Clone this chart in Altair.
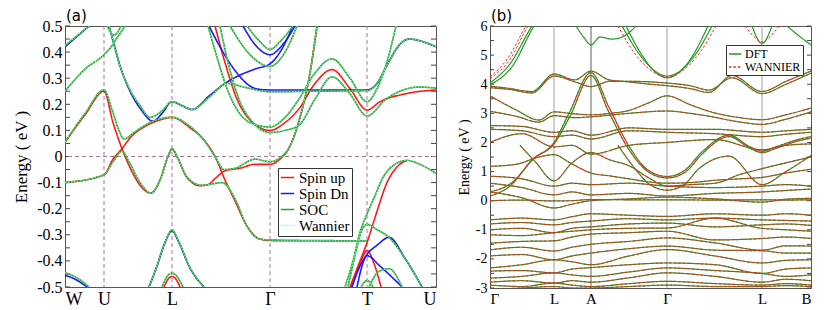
import altair as alt
import pandas as pd

# ---------------- panel (a) ----------------
A_SYM_K = [0, 39, 107, 205, 302, 371]
A_SYM_LABELS = ["W", "U", "L", "Γ", "T", "U"]
A_Y_TICKS = [0.5, 0.4, 0.3, 0.2, 0.1, 0.0, -0.1, -0.2, -0.3, -0.4, -0.5]
A_Y_LABELS = ["0.5", "0.4", "0.3", "0.2", "0.1", "0", "-0.1", "-0.2", "-0.3", "-0.4", "-0.5"]
A_MINOR = [-0.5, -0.45, -0.4, -0.35, -0.3, -0.25, -0.2, -0.15, -0.1, -0.05, 0.0,
           0.05, 0.1, 0.15, 0.2, 0.25, 0.3, 0.35, 0.4, 0.45, 0.5]
A_SERIES = ["Spin up", "Spin Dn", "SOC", "Wannier"]
A_COLORS = ["#ff1a1a", "#1a1aff", "#1fa51f", "#9ff5ee"]
A_TITLE = ["(a)"]

SPIN_UP = [
    ([0, 20, 39, 48, 57, 66, 76, 86, 95, 103, 107, 112, 122, 135, 143, 150, 160, 175, 190, 205, 215, 225, 235, 245, 252],
     [0.055, 0.16, 0.25, 0.13, 0.03, -0.05, -0.115, -0.14, -0.09, 0.0, 0.028, 0.0, -0.08, -0.112, -0.108, -0.085, -0.055, -0.045, -0.03, -0.03, -0.01, 0.04, 0.15, 0.32, 0.5]),
    ([0, 39, 48, 57, 66, 80, 95, 107, 125, 139, 150, 160, 170, 181, 194, 205, 250, 302],
     [-0.1, -0.07, -0.01, 0.03, 0.075, 0.115, 0.14, 0.15, 0.11, 0.063, 0.0, -0.09, -0.17, -0.26, -0.315, -0.322, -0.323, -0.323]),
    ([150, 160, 172, 185, 205, 220, 234, 250, 267, 285, 302, 315, 340, 371],
     [0.5, 0.36, 0.22, 0.14, 0.10, 0.13, 0.183, 0.28, 0.333, 0.26, 0.178, 0.21, 0.24, 0.255]),
    ([285, 293, 302, 312, 322, 332, 342], [-0.5, -0.42, -0.33, -0.21, -0.10, -0.04, -0.015]),
    ([286, 295, 302, 309, 316], [-0.5, -0.41, -0.36, -0.41, -0.5]),
    ([99, 103, 107, 111, 115], [-0.5, -0.47, -0.46, -0.47, -0.5]),
]

SPIN_DN = [
    ([0, 12, 24], [0.42, 0.46, 0.5]),
    ([0, 10, 22], [-0.455, -0.47, -0.5]),
    ([44, 49, 54, 65, 76, 88, 97, 107, 117, 127, 145, 160, 174, 190, 205, 215, 228],
     [0.5, 0.43, 0.36, 0.25, 0.18, 0.135, 0.165, 0.21, 0.195, 0.18, 0.235, 0.28, 0.31, 0.335, 0.355, 0.40, 0.5]),
    ([144, 158, 174, 185, 195, 205, 250, 302, 312, 322, 335, 344, 358, 371],
     [0.5, 0.40, 0.31, 0.27, 0.257, 0.255, 0.255, 0.255, 0.28, 0.35, 0.43, 0.45, 0.44, 0.42]),
    ([178, 192, 205, 218, 230], [0.5, 0.42, 0.39, 0.43, 0.5]),
    ([84, 92, 100, 107, 114, 124, 139], [-0.5, -0.42, -0.33, -0.285, -0.33, -0.42, -0.5]),
    ([287, 295, 302, 312, 324, 340, 357], [-0.5, -0.42, -0.375, -0.34, -0.31, -0.39, -0.5]),
    ([292, 297, 302, 315, 337], [-0.5, -0.42, -0.38, -0.42, -0.5]),
]

SOC = [
    ([0, 12, 24], [0.425, 0.462, 0.5]),
    ([0, 20, 39, 47, 53, 60], [0.25, 0.335, 0.39, 0.425, 0.46, 0.5]),
    ([42, 49, 56], [0.5, 0.465, 0.5]),
    ([44, 49, 54, 65, 75, 85, 97, 107, 117, 127, 145, 162, 180, 205, 250, 302, 312, 322, 335, 344, 358, 371],
     [0.5, 0.43, 0.36, 0.255, 0.195, 0.15, 0.175, 0.21, 0.195, 0.18, 0.23, 0.28, 0.265, 0.248, 0.25, 0.252, 0.28, 0.35, 0.43, 0.45, 0.44, 0.42]),
    ([0, 20, 39, 47, 54, 59, 70, 85, 107, 125, 139, 150, 159, 170, 190, 205, 215, 225, 235, 245, 252],
     [0.055, 0.165, 0.255, 0.18, 0.10, 0.067, 0.095, 0.13, 0.15, 0.115, 0.063, 0.0, -0.05, -0.045, -0.01, -0.02, -0.005, 0.04, 0.15, 0.32, 0.5]),
    ([0, 39, 48, 57, 64, 75, 86, 95, 103, 107, 112, 122, 137, 147, 157, 171, 181, 194, 205, 250, 302],
     [-0.1, -0.07, -0.02, 0.02, -0.02, -0.1, -0.14, -0.09, 0.0, 0.03, 0.0, -0.08, -0.11, -0.105, -0.10, -0.17, -0.26, -0.315, -0.32, -0.322, -0.323]),
    ([143, 152, 162, 172, 185, 205, 220, 234, 250, 267, 285, 302, 312, 321, 331],
     [0.5, 0.38, 0.26, 0.18, 0.13, 0.113, 0.15, 0.22, 0.32, 0.374, 0.30, 0.21, 0.26, 0.35, 0.5]),
    ([155, 165, 175, 188, 205, 220, 234, 250, 267, 285, 302, 321, 354, 371],
     [0.5, 0.33, 0.21, 0.13, 0.092, 0.1, 0.12, 0.22, 0.305, 0.24, 0.155, 0.22, 0.266, 0.262]),
    ([165, 185, 205, 220, 232], [0.5, 0.39, 0.345, 0.40, 0.5]),
    ([182, 195, 205, 215, 228], [0.5, 0.44, 0.41, 0.44, 0.5]),
    ([0, 12, 24], [-0.445, -0.465, -0.5]),
    ([84, 92, 100, 107, 114, 124, 139], [-0.5, -0.418, -0.328, -0.282, -0.328, -0.418, -0.5]),
    ([97, 102, 107, 112, 118], [-0.5, -0.46, -0.447, -0.46, -0.5]),
    ([280, 288, 295, 302, 310, 318, 330, 342, 355, 371], [-0.5, -0.40, -0.29, -0.22, -0.15, -0.08, -0.03, -0.015, -0.03, -0.065]),
    ([283, 290, 296, 302, 312, 324, 340, 357], [-0.5, -0.38, -0.29, -0.26, -0.28, -0.31, -0.39, -0.5]),
    ([296, 302, 308], [-0.5, -0.475, -0.5]),
    ([304, 314, 324, 337], [-0.5, -0.44, -0.43, -0.5]),
]

# ---------------- panel (b) ----------------
B_SYM_K = [0, 64, 101, 177, 272, 321]
B_SYM_LABELS = ["Γ", "L", "A", "Γ", "L", "B"]
B_LINE_COLORS = ["#a0a0a0", "#606060", "#a0a0a0", "#a0a0a0"]
B_Y_TICKS = [-3, -2, -1, 0, 1, 2, 3, 4, 5, 6]
B_Y_LABELS = ["-3", "-2", "-1", "0", "1", "2", "3", "4", "5", "6"]
B_MINOR = [-3, -2.5, -2, -1.5, -1, -0.5, 0, 0.5, 1, 1.5, 2, 2.5, 3, 3.5, 4, 4.5, 5, 5.5, 6]
B_SERIES = ["DFT", "WANNIER"]
B_COLORS = ["#229a22", "#ff2020"]
B_TITLE = ["(b)"]
B_GRID = [0, 32, 64, 82, 101, 139, 177, 225, 272, 296, 321]

B_GRID_BANDS = [
    [0.0, 0.02, -0.01, 0.0, 0.04, 0.03, 0.03, 0.02, 0.03, 0.02, 0.03],
    [0.3, 0.1, -0.25, -0.12, 0.0, 0.06, 0.12, 0.06, -0.05, 0.05, 0.08],
    [-0.66, -0.6, -0.66, -0.55, -0.45, -0.5, -0.54, -0.45, -0.5, -0.45, -0.5],
    [-0.8, -0.75, -0.83, -0.75, -0.7, -0.62, -0.66, -0.6, -0.66, -0.68, -0.7],
    [-1.0, -0.95, -1.1, -0.95, -0.9, -0.8, -0.77, -0.9, -0.83, -0.8, -0.85],
    [-1.17, -1.2, -1.1, -1.05, -1.0, -0.95, -0.94, -0.6, -0.95, -1.0, -1.05],
    [-1.46, -1.4, -1.38, -1.25, -1.15, -1.1, -1.05, -1.35, -1.3, -1.25, -1.3],
    [-1.69, -1.6, -1.73, -1.6, -1.5, -1.4, -1.28, -1.45, -1.7, -1.55, -1.56],
    [-1.9, -1.85, -2.03, -1.9, -1.8, -1.65, -1.56, -1.7, -1.72, -1.8, -1.8],
    [-2.31, -2.2, -2.03, -2.1, -2.2, -1.9, -1.68, -1.9, -2.14, -2.05, -2.03],
    [-2.42, -2.4, -2.48, -2.35, -2.3, -2.2, -2.14, -2.2, -2.5, -2.35, -2.31],
    [-2.66, -2.6, -2.48, -2.55, -2.6, -2.45, -2.31, -2.4, -2.5, -2.6, -2.55],
    [-2.8, -2.75, -2.83, -2.75, -2.8, -2.65, -2.48, -2.6, -2.8, -2.7, -2.75],
    [-2.9, -2.95, -2.83, -2.9, -2.95, -2.85, -2.77, -2.85, -2.9, -2.85, -2.9],
    [-3.05, -3.0, -2.95, -3.0, -3.0, -2.95, -2.9, -2.95, -2.95, -2.92, -2.95],
    [0.84, 0.75, 0.5, 0.6, 0.55, 0.6, 0.5, 0.45, 0.5, 0.55, 0.5],
    [0.6, 0.45, 0.2, 0.3, 0.2, 0.25, 0.16, 0.25, 0.3, 0.35, 0.4],
    [2.58, 2.55, 2.35, 2.4, 2.25, 2.5, 2.45, 2.45, 2.35, 2.4, 2.45],
    [2.45, 2.4, 2.2, 2.25, 2.12, 2.4, 2.35, 2.3, 2.2, 2.28, 2.35],
    [2.0, 2.3, 1.85, 1.9, 1.6, 1.9, 2.0, 2.1, 1.75, 1.9, 1.95],
]

B_SHARED = [
    ([0, 16, 42, 64, 85, 101, 119, 139, 160, 177, 200, 219, 242, 272, 296, 321],
     [3.93, 3.87, 3.75, 4.35, 4.15, 4.45, 4.15, 4.08, 4.0, 3.95, 3.85, 3.72, 4.3, 3.75, 4.1, 4.45]),
    ([0, 20, 42, 64, 85, 101, 120, 139, 177, 200, 219, 242, 272, 296, 321],
     [3.88, 3.82, 3.7, 4.28, 4.08, 3.92, 4.1, 4.1, 4.04, 3.95, 3.8, 4.22, 3.68, 4.0, 4.38]),
    ([0, 26, 49, 64, 85, 101, 120, 139, 158, 177, 200, 219, 250, 272, 296, 321],
     [3.6, 3.12, 2.77, 3.05, 2.98, 2.95, 3.0, 3.1, 3.35, 3.6, 3.3, 3.07, 2.85, 2.78, 2.95, 3.18]),
    ([0, 26, 49, 64, 85, 101, 139, 177, 200, 219, 250, 272, 296, 321],
     [3.07, 2.9, 2.7, 2.92, 2.85, 2.88, 3.0, 3.08, 3.0, 2.9, 2.7, 2.62, 2.8, 3.05]),
    ([0, 20, 42, 64, 79, 101, 119, 139, 158, 177, 195, 211, 239, 260, 272, 286, 308, 321],
     [0.16, 0.5, 1.4, 2.0, 3.0, 4.4, 3.2, 1.87, 1.05, 0.83, 1.05, 1.64, 2.25, 1.85, 1.7, 1.85, 2.1, 2.2]),
    ([0, 22, 44, 64, 80, 101, 118, 139, 160, 177, 196, 212, 239, 260, 272, 286, 308, 321],
     [0.3, 0.62, 1.45, 1.95, 2.9, 4.3, 3.1, 1.75, 0.95, 0.78, 1.0, 1.6, 2.2, 1.8, 1.65, 1.8, 2.05, 2.15]),
    ([128, 145, 160, 177, 194, 209, 239, 272, 296, 321],
     [1.9, 1.1, 0.55, 0.36, 0.55, 1.1, 1.53, 0.55, 1.0, 1.55]),
    ([0, 26, 49, 64, 80, 101, 120, 139, 158, 177, 200, 225, 250, 272, 296, 321],
     [1.18, 1.25, 1.5, 1.58, 1.3, 0.95, 0.85, 0.75, 0.65, 0.6, 0.62, 0.7, 0.75, 0.8, 0.95, 1.08]),
    ([30, 45, 64, 82, 101, 120, 139, 158, 177, 200, 225, 250, 272, 296, 321],
     [1.9, 1.35, 0.68, 1.3, 1.65, 1.4, 1.2, 0.8, 0.5, 0.55, 0.6, 0.9, 1.1, 1.3, 1.5]),
]

B_DFT_ONLY = [
    ([0, 20, 42, 50], [4.04, 4.7, 6.0, 6.4]),
    ([0, 22, 44, 52], [3.98, 4.6, 6.0, 6.4]),
    ([86, 94, 101, 110, 122, 134, 146], [6.0, 5.6, 5.35, 5.62, 5.55, 5.65, 6.0]),
    ([132, 150, 165, 177, 190, 205, 222], [6.0, 5.0, 4.45, 4.28, 4.45, 5.0, 6.0]),
    ([136, 152, 166, 177, 189, 203, 218], [6.0, 5.0, 4.4, 4.22, 4.4, 5.0, 6.0]),
    ([262, 272, 282], [6.0, 5.4, 6.0]),
    ([297, 309, 321], [6.0, 5.66, 5.35]),
]

B_WANNIER_ONLY = [
    ([0, 18, 36, 44], [4.25, 4.9, 6.0, 6.4]),
    ([0, 20, 38, 46], [4.2, 4.85, 6.0, 6.4]),
    ([128, 146, 162, 177, 192, 208, 226], [6.0, 5.0, 4.45, 4.25, 4.45, 5.0, 6.0]),
    ([255, 265, 272, 279, 289], [6.0, 5.6, 5.45, 5.6, 6.0]),
    ([97, 101, 105], [6.1, 5.95, 6.1]),
]


def band_rows(series, bands, tag):
    rows = []
    for i, (ks, es) in enumerate(bands):
        for j, (k, e) in enumerate(zip(ks, es)):
            rows.append({"series": series, "band": f"{tag}{i}", "order": j, "k": k, "e": e})
    return rows


def label_expr(values, labels):
    parts = [f"abs(datum.value - ({v})) < 0.001 ? '{l}'" for v, l in zip(values, labels)]
    return " : ".join(parts) + " : ''"


def panel_title(label):
    return alt.Chart(pd.DataFrame({"t": label})).mark_text(
        align="left", baseline="top", font="DejaVu Sans", fontSize=15, color="black"
    ).encode(text="t:N", x=alt.value(1), y=alt.value(-17))


SERIF = "Liberation Serif"

# ----- panel (a)
rows_a = (band_rows("Spin up", SPIN_UP, "u") + band_rows("Spin Dn", SPIN_DN, "d")
          + band_rows("SOC", SOC, "s") + band_rows("Wannier", SOC, "w"))
df_a = pd.DataFrame(rows_a)

xa = alt.X("k:Q", scale=alt.Scale(domain=[0, 371], nice=False, zero=False),
           axis=alt.Axis(values=A_SYM_K, labelExpr=label_expr(A_SYM_K, A_SYM_LABELS), title=None,
                         labelFontSize=18, labelPadding=3, labelFont=SERIF))
ya = alt.Y("e:Q", scale=alt.Scale(domain=[-0.5, 0.5], nice=False, zero=False),
           axis=alt.Axis(values=A_Y_TICKS, labelExpr=label_expr(A_Y_TICKS, A_Y_LABELS),
                         title="Energy ( eV )", titleFontSize=17, labelFontSize=16,
                         labelPadding=3, titlePadding=6, labelFont=SERIF, titleFont=SERIF))

leg_a = alt.Legend(title=None, orient="none", legendX=213, legendY=142, symbolType="stroke",
                   symbolSize=180, symbolStrokeWidth=1.5, labelFont=SERIF, labelFontSize=15,
                   strokeColor="#333", fillColor="white", padding=2, rowPadding=0,
                   labelColor="black", labelOffset=4)
col_a = alt.Color("series:N", scale=alt.Scale(domain=A_SERIES, range=A_COLORS), legend=leg_a)
dash_a = alt.StrokeDash("series:N", scale=alt.Scale(domain=A_SERIES, range=[[1, 0], [1, 0], [1, 0], [1.5, 1.5]]),
                        legend=leg_a)

ticks_a_df = pd.DataFrame({"e": A_MINOR})
sym_a_df = pd.DataFrame({"k": A_SYM_K[1:-1]})
zero_a_df = pd.DataFrame({"e": [0.0]})

layers_a = [
    alt.Chart(ticks_a_df).mark_rule(color="#444").encode(y=ya, x=alt.value(0), x2=alt.value(5)),
    alt.Chart(ticks_a_df).mark_rule(color="#444").encode(y=ya, x=alt.value(366), x2=alt.value(371)),
    alt.Chart(sym_a_df).mark_rule(color="#a8789a", strokeDash=[4, 3], strokeWidth=1).encode(x=xa),
    alt.Chart(zero_a_df).mark_rule(color="#a8789a", strokeDash=[4, 3], strokeWidth=1).encode(y=ya),
]
for name, w in [("Spin up", 1.6), ("Spin Dn", 1.6), ("SOC", 1.6), ("Wannier", 0.9)]:
    layers_a.append(
        alt.Chart(df_a).transform_filter(alt.datum.series == name)
        .mark_line(clip=True, strokeWidth=w, interpolate="monotone")
        .encode(x=xa, y=ya, detail="band:N", order="order:Q", color=col_a, strokeDash=dash_a)
    )
layers_a.append(panel_title(A_TITLE))

chart_a = alt.layer(*layers_a).properties(width=371, height=261)

# ----- panel (b)
rows_b = []
grid_bands = [(B_GRID, vals) for vals in B_GRID_BANDS]
for series in B_SERIES:
    rows_b += band_rows(series, grid_bands, series[0] + "g")
    rows_b += band_rows(series, B_SHARED, series[0] + "s")
rows_b += band_rows("DFT", B_DFT_ONLY, "Do")
rows_b += band_rows("WANNIER", B_WANNIER_ONLY, "Wo")
df_b = pd.DataFrame(rows_b)

xb = alt.X("k:Q", scale=alt.Scale(domain=[0, 321], nice=False, zero=False),
           axis=alt.Axis(values=B_SYM_K, labelExpr=label_expr(B_SYM_K, B_SYM_LABELS), title=None,
                         labelFontSize=15, labelPadding=3, labelFont=SERIF))
yb = alt.Y("e:Q", scale=alt.Scale(domain=[-3, 6], nice=False, zero=False),
           axis=alt.Axis(values=B_Y_TICKS, labelExpr=label_expr(B_Y_TICKS, B_Y_LABELS),
                         title="Energy ( eV )", titleFontSize=14, labelFontSize=14,
                         labelPadding=3, titlePadding=4, labelFont=SERIF, titleFont=SERIF))

leg_b = alt.Legend(title=None, orient="none", legendX=236, legendY=19, symbolType="stroke",
                   symbolSize=150, symbolStrokeWidth=1.5, labelFont=SERIF, labelFontSize=12,
                   strokeColor="#333", fillColor="white", padding=2, rowPadding=0,
                   labelColor="black", labelOffset=3)
col_b = alt.Color("series:N", scale=alt.Scale(domain=B_SERIES, range=B_COLORS), legend=leg_b)
dash_b = alt.StrokeDash("series:N", scale=alt.Scale(domain=B_SERIES, range=[[1, 0], [2.5, 2]]), legend=leg_b)

ticks_b_df = pd.DataFrame({"e": B_MINOR})
sym_b_df = pd.DataFrame({"k": B_SYM_K[1:-1], "c": B_LINE_COLORS})

layers_b = [
    alt.Chart(ticks_b_df).mark_rule(color="#444").encode(y=yb, x=alt.value(0), x2=alt.value(4)),
    alt.Chart(ticks_b_df).mark_rule(color="#444").encode(y=yb, x=alt.value(317), x2=alt.value(321)),
    alt.Chart(sym_b_df).mark_rule(strokeWidth=1).encode(x=xb, stroke=alt.Stroke("c:N", scale=None)),
]
for name, w in [("DFT", 1.2), ("WANNIER", 1.0)]:
    layers_b.append(
        alt.Chart(df_b).transform_filter(alt.datum.series == name)
        .mark_line(clip=True, strokeWidth=w, interpolate="monotone")
        .encode(x=xb, y=yb, detail="band:N", order="order:Q", color=col_b, strokeDash=dash_b)
    )
layers_b.append(panel_title(B_TITLE))

chart_b = alt.layer(*layers_b).properties(width=321, height=262)

chart = (
    alt.hconcat(chart_a, chart_b, spacing=19)
    .resolve_scale(color="independent", strokeDash="independent")
    .properties(padding={"left": 4, "right": 0, "top": 0, "bottom": 0})
    .configure_view(stroke="#555", strokeWidth=1)
    .configure_axis(domain=False, ticks=False, grid=False, labelColor="black", titleColor="black",
                    titleFontWeight="normal")
)

chart.save("out.html", embed_options={"renderer": "svg", "actions": False})
